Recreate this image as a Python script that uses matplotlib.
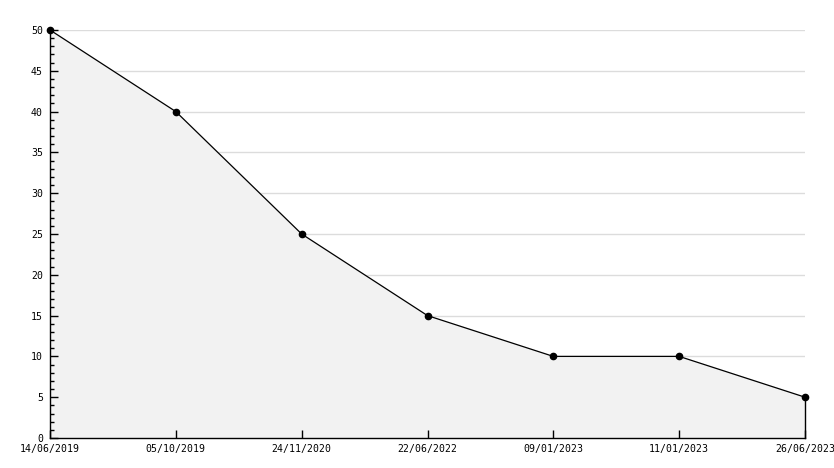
from matplotlib import pyplot as pl
from matplotlib.ticker import MultipleLocator

dates = ['14/06/2019', '05/10/2019', '24/11/2020', '22/06/2022', '09/01/2023', '11/01/2023', '26/06/2023']
values = [50, 40, 25, 15, 10, 10, 5]

fig = pl.figure(figsize=(8.34, 4.68), dpi=100)
ax = fig.add_axes([50/834, 30/468, 755/834, 408/468])
x = range(len(dates))

# grid lines sit under the filled area
for yv in range(5, 51, 5):
    ax.axhline(yv, color='#dcdcdc', linewidth=1, zorder=0.5)
ax.fill_between(x, values, 0, color='#f2f2f2', zorder=1)
ax.plot([len(dates)-1, len(dates)-1], [0, values[-1]], color='black', lw=1, zorder=2, clip_on=False)
ax.plot(x, values, color='black', lw=0.9, marker='o', markersize=4.5, zorder=3, clip_on=False)

ax.set_xlim(0, len(dates)-1)
ax.set_ylim(0, 50)
ax.set_xticks(list(x))
ax.set_xticklabels(dates)
ax.yaxis.set_major_locator(MultipleLocator(5))
ax.yaxis.set_minor_locator(MultipleLocator(1))
ax.tick_params(axis='both', which='both', labelsize=7.1, direction='in', width=1, color='black')
ax.tick_params(axis='y', which='major', length=6, pad=5)
ax.tick_params(axis='y', which='minor', length=3)
ax.tick_params(axis='x', length=6, pad=4)
for lbl in ax.get_xticklabels() + ax.get_yticklabels():
    lbl.set_family('DejaVu Sans Mono')
for s in ('top', 'right'):
    ax.spines[s].set_visible(False)
for s in ('left', 'bottom'):
    ax.spines[s].set_linewidth(1)
    ax.spines[s].set_zorder(4)

pl.savefig('out.png', dpi=100)
